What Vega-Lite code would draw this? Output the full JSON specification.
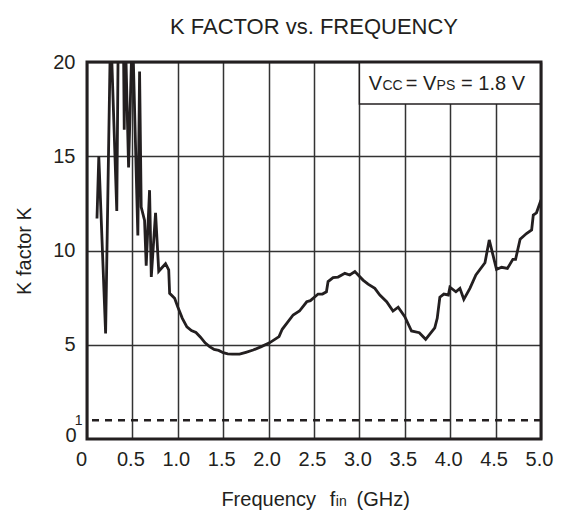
{
  "$schema": "https://vega.github.io/schema/vega-lite/v6.json",
  "width": 454,
  "height": 377,
  "autosize": {"type": "none"},
  "padding": {"left": 87, "top": 62, "right": 23, "bottom": 74},
  "background": "white",
  "config": {"view": {"stroke": null}, "font": "Liberation Sans"},
  "title": {"text": "K FACTOR vs. FREQUENCY", "fontSize": 22, "fontWeight": "normal", "font": "Liberation Sans", "color": "#231f20", "frame": "group", "anchor": "middle", "baseline": "bottom", "offset": 24, "dy": 33},
  "layer": [
    {
      "data": {"values": [
        {"f": 0.11, "k": 11.7}, {"f": 0.13, "k": 15.0}, {"f": 0.205, "k": 5.6}, {"f": 0.26, "k": 22},
        {"f": 0.328, "k": 12.1}, {"f": 0.345, "k": 22}, {"f": 0.40, "k": 22}, {"f": 0.41, "k": 16.4},
        {"f": 0.42, "k": 22}, {"f": 0.458, "k": 14.4}, {"f": 0.50, "k": 22}, {"f": 0.56, "k": 10.8},
        {"f": 0.579, "k": 19.5}, {"f": 0.597, "k": 12.3}, {"f": 0.634, "k": 11.6}, {"f": 0.652, "k": 9.2},
        {"f": 0.689, "k": 13.2}, {"f": 0.708, "k": 8.6}, {"f": 0.755, "k": 12.0}, {"f": 0.79, "k": 8.9},
        {"f": 0.865, "k": 9.3}, {"f": 0.90, "k": 8.97}, {"f": 0.91, "k": 7.73}, {"f": 0.965, "k": 7.46},
        {"f": 1.00, "k": 7.0}, {"f": 1.05, "k": 6.4}, {"f": 1.10, "k": 5.95}, {"f": 1.15, "k": 5.75},
        {"f": 1.20, "k": 5.65}, {"f": 1.25, "k": 5.4}, {"f": 1.30, "k": 5.1}, {"f": 1.35, "k": 4.9},
        {"f": 1.40, "k": 4.75}, {"f": 1.45, "k": 4.7}, {"f": 1.50, "k": 4.58}, {"f": 1.55, "k": 4.52},
        {"f": 1.60, "k": 4.5}, {"f": 1.68, "k": 4.5}, {"f": 1.75, "k": 4.6}, {"f": 1.83, "k": 4.72},
        {"f": 1.92, "k": 4.9}, {"f": 2.01, "k": 5.1}, {"f": 2.115, "k": 5.43}, {"f": 2.15, "k": 5.82},
        {"f": 2.27, "k": 6.58}, {"f": 2.34, "k": 6.79}, {"f": 2.42, "k": 7.28}, {"f": 2.46, "k": 7.34},
        {"f": 2.545, "k": 7.69}, {"f": 2.593, "k": 7.69}, {"f": 2.637, "k": 7.81}, {"f": 2.655, "k": 8.35},
        {"f": 2.71, "k": 8.56}, {"f": 2.765, "k": 8.59}, {"f": 2.84, "k": 8.79}, {"f": 2.894, "k": 8.7},
        {"f": 2.95, "k": 8.88}, {"f": 3.04, "k": 8.43}, {"f": 3.096, "k": 8.22}, {"f": 3.17, "k": 7.99},
        {"f": 3.225, "k": 7.64}, {"f": 3.30, "k": 7.28}, {"f": 3.37, "k": 6.79}, {"f": 3.427, "k": 6.99},
        {"f": 3.50, "k": 6.49}, {"f": 3.574, "k": 5.73}, {"f": 3.66, "k": 5.64}, {"f": 3.73, "k": 5.29},
        {"f": 3.83, "k": 5.9}, {"f": 3.857, "k": 6.4}, {"f": 3.886, "k": 7.52}, {"f": 3.93, "k": 7.69},
        {"f": 3.98, "k": 7.64}, {"f": 3.997, "k": 8.05}, {"f": 4.063, "k": 7.81}, {"f": 4.107, "k": 7.99},
        {"f": 4.15, "k": 7.41}, {"f": 4.217, "k": 7.99}, {"f": 4.283, "k": 8.7}, {"f": 4.383, "k": 9.35},
        {"f": 4.43, "k": 10.56}, {"f": 4.51, "k": 9.0}, {"f": 4.567, "k": 9.11}, {"f": 4.63, "k": 9.05},
        {"f": 4.69, "k": 9.53}, {"f": 4.72, "k": 9.53}, {"f": 4.77, "k": 10.6}, {"f": 4.84, "k": 10.9},
        {"f": 4.897, "k": 11.09}, {"f": 4.915, "k": 11.88}, {"f": 4.95, "k": 12.0}, {"f": 5.0, "k": 12.68}
      ]},
      "mark": {"type": "line", "clip": true, "color": "#231f20", "strokeWidth": 2.8},
      "encoding": {
        "x": {
          "field": "f", "type": "quantitative",
          "scale": {"domain": [0, 5], "nice": false, "zero": false},
          "axis": {
            "values": [0, 0.5, 1, 1.5, 2, 2.5, 3, 3.5, 4, 4.5, 5],
            "labelExpr": "datum.value == 0 ? '0' : format(datum.value, '.1f')",
            "labelFontSize": 20, "labelFont": "Liberation Sans", "labelColor": "#231f20",
            "labelPadding": 10, "labelFlush": false, "labelOverlap": false,
            "labelOffset": {"condition": {"test": "datum.value == 0", "value": -6}, "value": -2},
            "ticks": false, "domain": false, "grid": true, "gridColor": "#333333", "gridWidth": 1.5,
            "title": null
          }
        },
        "y": {
          "field": "k", "type": "quantitative",
          "scale": {"domain": [0, 20], "nice": false},
          "axis": {
            "values": [0, 1, 5, 10, 15, 20],
            "labelFontSize": {"condition": {"test": "datum.value == 1", "value": 14}, "value": 20},
            "labelPadding": {"condition": [{"test": "datum.value == 1", "value": 5}, {"test": "datum.value == 0", "value": 11}], "value": 12},
            "labelOffset": {"condition": {"test": "datum.value == 0", "value": -4}, "value": 0},
            "labelFont": "Liberation Sans", "labelColor": "#231f20", "labelOverlap": false, "labelFlush": false,
            "ticks": false, "domain": false, "grid": true, "gridColor": "#333333", "gridWidth": 1.5,
            "gridOpacity": {"condition": {"test": "datum.value <= 1", "value": 0}, "value": 1},
            "title": "K factor  K", "titleFontSize": 20, "titleFontWeight": "normal", "titleFont": "Liberation Sans",
            "titleColor": "#231f20", "titleX": -57, "titleY": 188.5, "titleBaseline": "alphabetic", "titleAlign": "center", "titleAngle": 270
          }
        }
      }
    },
    {
      "data": {"values": [{}]},
      "mark": {"type": "rule", "strokeDash": [7, 6], "strokeWidth": 2.5, "color": "#231f20"},
      "encoding": {"y": {"datum": 1, "type": "quantitative"}}
    },
    {
      "data": {"values": [{}]},
      "mark": {"type": "rect", "fill": "white", "stroke": "#231f20", "strokeWidth": 1.5},
      "encoding": {
        "x": {"datum": 3, "type": "quantitative"}, "x2": {"datum": 5},
        "y": {"datum": 17.77, "type": "quantitative"}, "y2": {"datum": 20}
      }
    },
    {
      "data": {"values": [{}]},
      "mark": {"type": "text", "align": "left", "baseline": "alphabetic", "fontSize": 20, "font": "Liberation Sans", "color": "#231f20"},
      "encoding": {"x": {"datum": 3.104, "type": "quantitative"}, "y": {"datum": 18.51, "type": "quantitative"}, "text": {"value": "V"}}
    },
    {
      "data": {"values": [{}]},
      "mark": {"type": "text", "align": "left", "baseline": "alphabetic", "fontSize": 14, "font": "Liberation Sans", "color": "#231f20"},
      "encoding": {"x": {"datum": 3.254, "type": "quantitative"}, "y": {"datum": 18.51, "type": "quantitative"}, "text": {"value": "CC"}}
    },
    {
      "data": {"values": [{}]},
      "mark": {"type": "text", "align": "left", "baseline": "alphabetic", "fontSize": 20, "font": "Liberation Sans", "color": "#231f20"},
      "encoding": {"x": {"datum": 3.51, "type": "quantitative"}, "y": {"datum": 18.51, "type": "quantitative"}, "text": {"value": "= V"}}
    },
    {
      "data": {"values": [{}]},
      "mark": {"type": "text", "align": "left", "baseline": "alphabetic", "fontSize": 14, "font": "Liberation Sans", "color": "#231f20"},
      "encoding": {"x": {"datum": 3.85, "type": "quantitative"}, "y": {"datum": 18.51, "type": "quantitative"}, "text": {"value": "PS"}}
    },
    {
      "data": {"values": [{}]},
      "mark": {"type": "text", "align": "left", "baseline": "alphabetic", "fontSize": 20, "font": "Liberation Sans", "color": "#231f20"},
      "encoding": {"x": {"datum": 4.12, "type": "quantitative"}, "y": {"datum": 18.51, "type": "quantitative"}, "text": {"value": "= 1.8 V"}}
    },
    {
      "data": {"values": [{}]},
      "mark": {"type": "text", "align": "left", "baseline": "alphabetic", "fontSize": 20, "font": "Liberation Sans", "color": "#231f20"},
      "encoding": {"x": {"datum": 1.48, "type": "quantitative"}, "y": {"datum": -3.554, "type": "quantitative"}, "text": {"value": "Frequency"}}
    },
    {
      "data": {"values": [{}]},
      "mark": {"type": "text", "align": "left", "baseline": "alphabetic", "fontSize": 20, "font": "Liberation Sans", "color": "#231f20"},
      "encoding": {"x": {"datum": 2.674, "type": "quantitative"}, "y": {"datum": -3.554, "type": "quantitative"}, "text": {"value": "f"}}
    },
    {
      "data": {"values": [{}]},
      "mark": {"type": "text", "align": "left", "baseline": "alphabetic", "fontSize": 14, "font": "Liberation Sans", "color": "#231f20"},
      "encoding": {"x": {"datum": 2.74, "type": "quantitative"}, "y": {"datum": -3.554, "type": "quantitative"}, "text": {"value": "in"}}
    },
    {
      "data": {"values": [{}]},
      "mark": {"type": "text", "align": "left", "baseline": "alphabetic", "fontSize": 20, "font": "Liberation Sans", "color": "#231f20"},
      "encoding": {"x": {"datum": 2.968, "type": "quantitative"}, "y": {"datum": -3.554, "type": "quantitative"}, "text": {"value": "(GHz)"}}
    },
    {
      "data": {"values": [{}]},
      "mark": {"type": "rect", "fill": null, "fillOpacity": 0, "stroke": "#231f20", "strokeWidth": 3},
      "encoding": {
        "x": {"datum": 0, "type": "quantitative"}, "x2": {"datum": 5},
        "y": {"datum": 0, "type": "quantitative"}, "y2": {"datum": 20}
      }
    }
  ]
}
